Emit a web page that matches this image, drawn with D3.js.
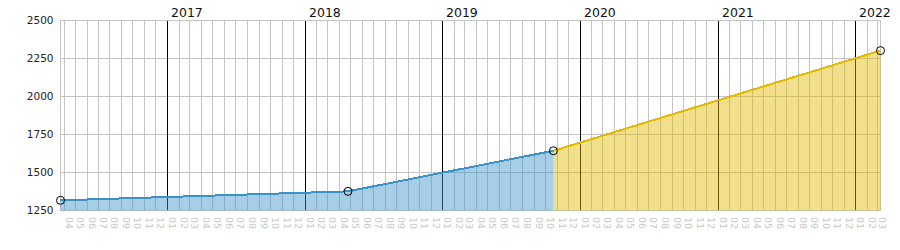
<!DOCTYPE html>
<html>
<head>
<meta charset="utf-8">
<script src="https://cdn.jsdelivr.net/npm/d3@7"></script>
<style>
  body { margin: 0; background: white; }
  text { font-family: "DejaVu Sans", Verdana, sans-serif; }
</style>
</head>
<body>
<div id="chart"></div>
<script>
// data points (the circles), the line runs straight between them
let pointDates = ["2016-03-24", "2018-04-26", "2019-10-23", "2022-03-09"];
let pointValues = [1317, 1376, 1643, 2302];
// first part blue up to point index 2, then yellow
let segmentStarts = [0, 2];
let segmentEnds = [2, 3];
let segmentColors = ["#3a92c7", "#e3b800"];
let yTicks = [1250, 1500, 1750, 2000, 2250, 2500];

const wSvg = 900;
const hSvg = 250;
const plotLeft = 60.5;
const plotRight = 880.5;
const plotTop = 20.5;
const plotBottom = 210.5;

let parse = d3.utcParse("%Y-%m-%d");
let points = pointDates.map((d, i) => ({ date: parse(d), value: pointValues[i] }));

let xScale = d3.scaleUtc(d3.extent(points, d => d.date), [plotLeft, plotRight]);
let yScale = d3.scaleLinear([1250, 2500], [plotBottom, plotTop]);

let svg = d3.select("#chart")
    .append("svg")
    .attr("width", wSvg)
    .attr("height", hSvg);

let months = d3.utcMonth.range(d3.utcMonth.ceil(xScale.domain()[0]), xScale.domain()[1]);
let years = d3.utcYear.range(d3.utcYear.ceil(xScale.domain()[0]), xScale.domain()[1]);

// grid
svg.append("g")
    .selectAll("line")
    .data(months)
    .enter()
    .append("line")
    .attr("x1", d => Math.round(xScale(d)) + 0.5)
    .attr("x2", d => Math.round(xScale(d)) + 0.5)
    .attr("y1", plotTop)
    .attr("y2", plotBottom)
    .attr("stroke", "#c4c4c4");

svg.append("g")
    .selectAll("line")
    .data(yTicks)
    .enter()
    .append("line")
    .attr("x1", plotLeft)
    .attr("x2", plotRight)
    .attr("y1", d => yScale(d))
    .attr("y2", d => yScale(d))
    .attr("stroke", "#c4c4c4");

svg.append("g")
    .selectAll("line")
    .data(years)
    .enter()
    .append("line")
    .attr("x1", d => Math.round(xScale(d)) + 0.5)
    .attr("x2", d => Math.round(xScale(d)) + 0.5)
    .attr("y1", plotTop)
    .attr("y2", plotBottom)
    .attr("stroke", "#000");

// frame
svg.append("rect")
    .attr("x", plotLeft)
    .attr("y", plotTop)
    .attr("width", plotRight - plotLeft)
    .attr("height", plotBottom - plotTop)
    .attr("fill", "none")
    .attr("stroke", "#c4c4c4");

// areas and lines
let area = d3.area()
    .x(d => xScale(d.date))
    .y0(plotBottom)
    .y1(d => yScale(d.value));

let line = d3.line()
    .x(d => xScale(d.date))
    .y(d => yScale(d.value));

for (let i = 0; i < segmentStarts.length; i++) {
    let part = points.slice(segmentStarts[i], segmentEnds[i] + 1);
    svg.append("path")
        .attr("d", area(part))
        .attr("fill", segmentColors[i])
        .attr("fill-opacity", 0.45);
    svg.append("path")
        .attr("d", line(part))
        .attr("fill", "none")
        .attr("stroke", segmentColors[i])
        .attr("stroke-width", 2)
        .attr("shape-rendering", "crispEdges");
}

svg.append("g")
    .selectAll("circle")
    .data(points)
    .enter()
    .append("circle")
    .attr("cx", d => xScale(d.date))
    .attr("cy", d => yScale(d.value))
    .attr("r", 4)
    .attr("fill", "none")
    .attr("stroke", "#000")
    .attr("stroke-width", 1);

// y labels
svg.append("g")
    .selectAll("text")
    .data(yTicks)
    .enter()
    .append("text")
    .attr("x", 53.5)
    .attr("y", d => yScale(d))
    .attr("dy", "0.36em")
    .attr("text-anchor", "end")
    .attr("font-size", "10.5px")
    .attr("fill", "#222")
    .text(d => d);

// year labels
svg.append("g")
    .selectAll("text")
    .data(years)
    .enter()
    .append("text")
    .attr("x", d => Math.round(xScale(d)) + 4)
    .attr("y", 16.5)
    .attr("font-size", "12.5px")
    .attr("fill", "#111")
    .text(d => d3.utcFormat("%Y")(d));

// month labels
svg.append("g")
    .selectAll("text")
    .data(months)
    .enter()
    .append("text")
    .attr("transform", d => `translate(${Math.round(xScale(d)) + 1.5}, 217) rotate(90)`)
    .attr("font-size", "9.5px")
    .attr("fill", "#c8c8c8")
    .text(d => d3.utcFormat("%m")(d));
</script>
</body>
</html>
